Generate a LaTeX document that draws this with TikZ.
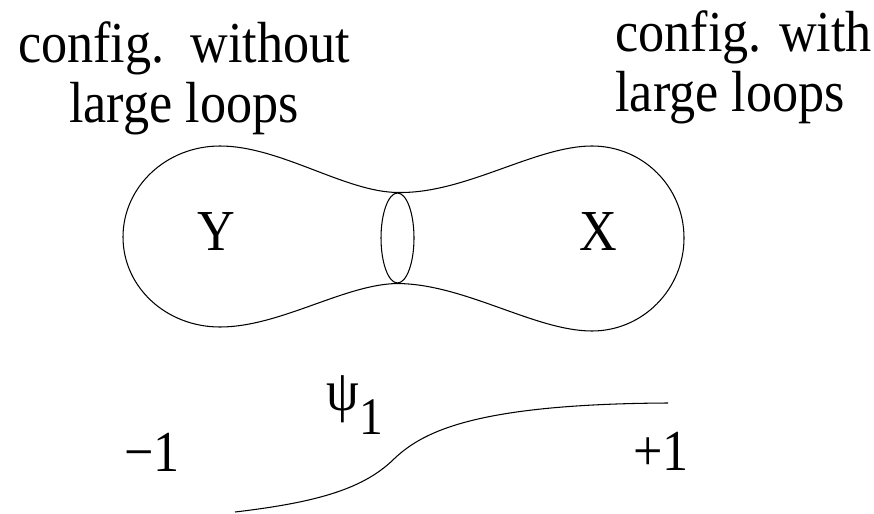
\documentclass[tikz,border=0pt]{standalone}
\usepackage{fontspec}
\setmainfont[FakeStretch=0.9]{Liberation Serif}
\usetikzlibrary{shapes.geometric}

\begin{document}
\begin{tikzpicture}[
  x=0.02cm, y=-0.02cm,
  lbl/.style={font=\fontsize{33}{34}\selectfont, inner sep=0pt},
  surface/.style={line width=0.6pt},
  throat/.style={draw, ellipse, line width=0.6pt, minimum width=0.66cm, minimum height=1.8cm, inner sep=0pt}
]
\useasboundingbox (0,0) rectangle (874,513);

% labels above the two lobes
\node[lbl, align=center] (without) at (184,78) {config.\ \ without\\large loops};
\node[lbl, align=left, anchor=west] (with) at (615,67) {config. with\\large loops};

% the neck between the two regions
\node[throat] (neck) at (397.5,238) {};
\node[lbl] (Y) at (216,232) {Y};
\node[lbl] (X) at (598,232) {X};

\draw[surface] (neck.north)
  .. controls (465,194) and (535,146) .. (592,146)
  .. controls (643,146) and (684,187) .. (684,238)
  .. controls (684,289) and (643,331) .. (592,331)
  .. controls (535,331) and (465,284) .. (neck.south)
  .. controls (345,284) and (280,327) .. (220,327)
  .. controls (166,327) and (123,287) .. (123,237)
  .. controls (123,187) and (166,146) .. (220,146)
  .. controls (280,146) and (345,192) .. (neck.north);

% psi_1 profile
\node[lbl, anchor=base] (minus) at (152,471) {−1};
\node[lbl, anchor=base] (plus) at (661,470) {+1};
\node[lbl, anchor=base west] (psi) at (326,410) {ψ\raisebox{-14pt}{\fontsize{30}{30}\selectfont 1}};
\draw[surface] (235,512) .. controls (320,502) and (365,488) .. (395,458)
  .. controls (425,430) and (480,404) .. (668,403);
\end{tikzpicture}
\end{document}
